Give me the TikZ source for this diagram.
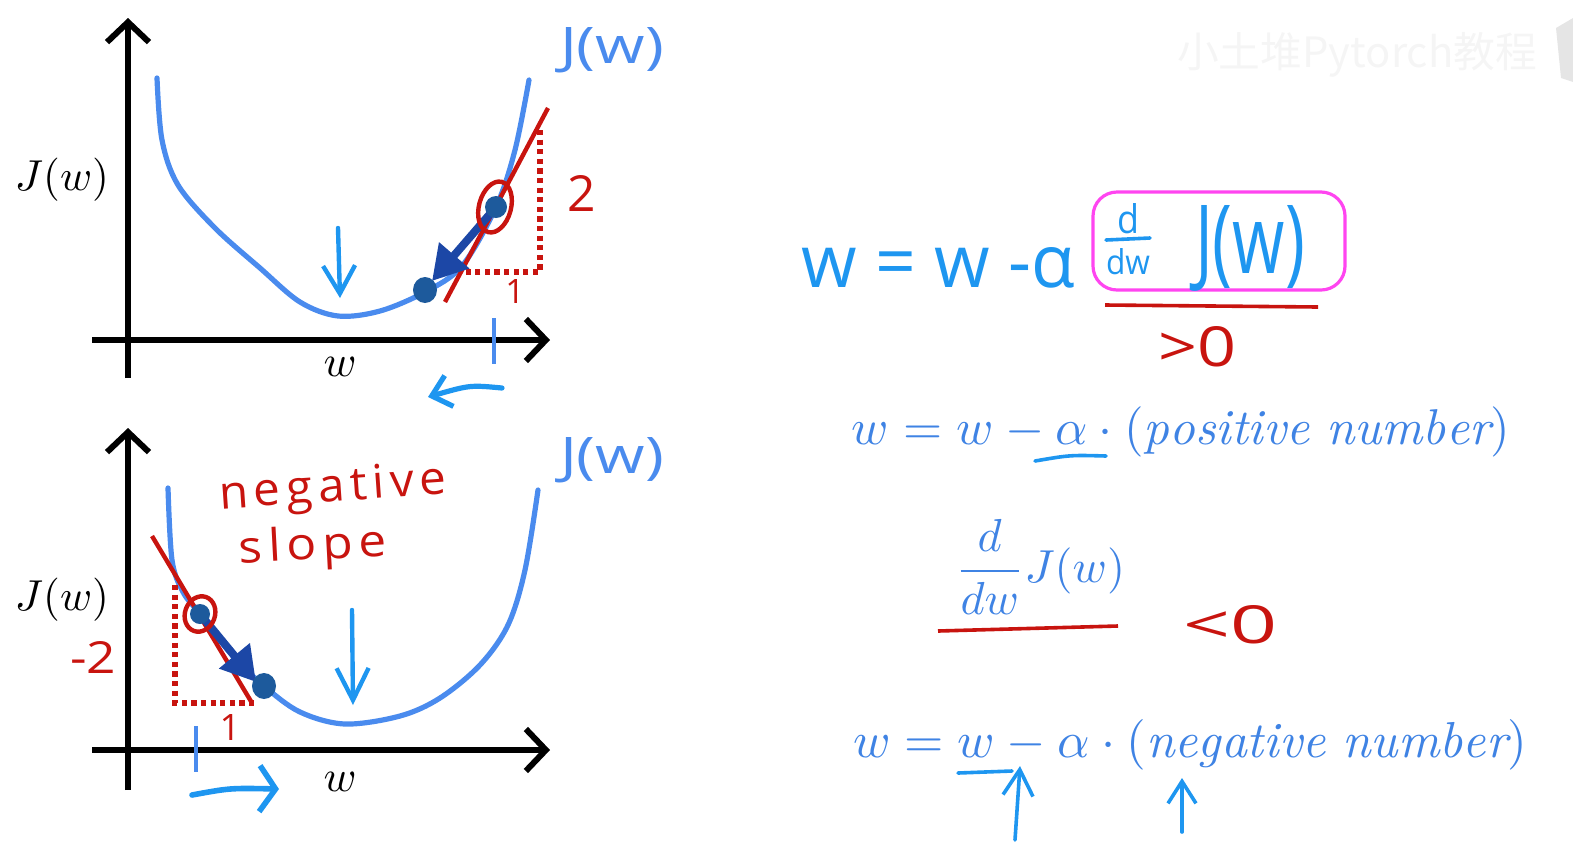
\documentclass[tikz,border=0pt]{standalone}
\usepackage{fontspec}
\usetikzlibrary{arrows.meta}
\newfontfamily\hand{Open Sans}
\newfontfamily\handsp{Open Sans}[LetterSpace=12]
\newfontfamily\cjk{Noto Sans CJK SC}
\definecolor{curveblue}{HTML}{4A8BEE}
\definecolor{mathblue}{HTML}{3F83E4}
\definecolor{handblue}{HTML}{1E96F0}
\definecolor{darkblue}{HTML}{1C47A6}
\definecolor{dotblue}{HTML}{1D5A9C}
\definecolor{penred}{HTML}{C8140F}
\definecolor{boxpink}{HTML}{FF45F0}
\begin{document}
\begin{tikzpicture}[x=0.5pt,y=-0.5pt,
  axis/.style={line width=3pt, line join=round, -{Straight Barb[length=10pt,width=21pt]}},
  jcurve/.style={draw=curveblue, line width=2.6pt, line cap=round},
  tick/.style={draw=curveblue, line width=2.4pt},
  tangent/.style={draw=penred, line width=2.2pt},
  guide/.style={draw=penred, line width=2.6pt, dash pattern=on 2.6pt off 2.2pt},
  hint/.style={draw=handblue, line width=2.2pt, line cap=round, line join=round},
  stepvec/.style={draw=darkblue, line width=4pt, -{Triangle[length=17pt,width=19pt]}},
  ptdot/.style={fill=dotblue},
  ring/.style={draw=penred, line width=2.2pt},
  lbl/.style={inner sep=0pt, outer sep=0pt},
]
\useasboundingbox (0,0) rectangle (1573,852);

% ---------------- top graph ----------------
\coordinate (ya0) at (128,378); \coordinate (ya1) at (128,18);
\coordinate (xa0) at (92,340);  \coordinate (xa1) at (550,340);
\draw[axis] (ya0) -- (ya1);
\draw[axis] (xa0) -- (xa1);
\node[lbl] (jlab1) at (62,180) {\resizebox{47pt}{!}{$J(w)$}};
\node[lbl] (wlab1) at (340,367) {\resizebox{16.5pt}{!}{$w$}};
\draw[jcurve] plot[smooth, tension=0.55] coordinates {(157,78) (162,140) (178,185) (215,228) (260,268) (300,302) (338,316) (380,311) (425,292) (462,266) (496,207) (515,150) (529,80)};
\node[lbl, text=curveblue] (jcur1) at (612,50) {\resizebox{52pt}{18pt}{\hand J(w)}};
\coordinate (t1a) at (445,302); \coordinate (t1b) at (548,108);
\draw[tangent] (t1a) -- (t1b);
\coordinate (g1a) at (540,130); \coordinate (g1c) at (540,272); \coordinate (g1b) at (460,272);
\draw[guide] (g1a) -- (g1c) -- (g1b);
\node[lbl, text=penred] (two) at (582,193) {\resizebox{!}{18pt}{\hand 2}};
\node[lbl, text=penred] (one1) at (515,291) {\resizebox{!}{12pt}{\hand 1}};
\coordinate (p1) at (496,207); \coordinate (p1tip) at (432,281); \coordinate (p2) at (425,290);
\draw[stepvec] (p1) -- (p1tip);
\fill[ptdot] (p1) circle (11);
\fill[ptdot] (p2) ellipse (12 and 13);
\draw[ring, rotate around={-15:(495,207)}] (495,207) ellipse (16 and 26);
\coordinate (tk1a) at (494,318); \coordinate (tk1b) at (494,364);
\draw[tick] (tk1a) -- (tk1b);
\coordinate (dn1a) at (338,228); \coordinate (dn1b) at (340,298);
\draw[hint, -{Straight Barb[length=14pt,width=16pt]}] (dn1a) -- (dn1b);
\coordinate (lf1a) at (502,388); \coordinate (lf1b) at (428,397);
\draw[hint, line width=2.6pt, -{Straight Barb[length=9pt,width=16pt]}] (lf1a) .. controls (470,385) .. (lf1b);

% ---------------- bottom graph ----------------
\coordinate (yb0) at (128,790); \coordinate (yb1) at (128,428);
\coordinate (xb0) at (92,750);  \coordinate (xb1) at (550,750);
\draw[axis] (yb0) -- (yb1);
\draw[axis] (xb0) -- (xb1);
\node[lbl] (jlab2) at (62,600) {\resizebox{47pt}{!}{$J(w)$}};
\node[lbl] (wlab2) at (340,782) {\resizebox{16.5pt}{!}{$w$}};
\draw[jcurve] plot[smooth, tension=0.55] coordinates {(168,488) (172,560) (183,592) (200,614) (232,655) (264,686) (300,712) (345,724) (400,716) (440,698) (480,665) (508,625) (525,570) (538,490)};
\node[lbl, text=curveblue] (jcur2) at (612,460) {\resizebox{52pt}{18pt}{\hand J(w)}};
\node[lbl, text=penred, rotate=4] (neg) at (333,490) {\resizebox{114pt}{17pt}{\handsp negative}};
\node[lbl, text=penred, rotate=3] (slope) at (313,548) {\resizebox{74pt}{17pt}{\handsp slope}};
\coordinate (t2a) at (152,536); \coordinate (t2b) at (252,703);
\draw[tangent] (t2a) -- (t2b);
\coordinate (g2a) at (175,585); \coordinate (g2c) at (175,703); \coordinate (g2b) at (255,703);
\draw[guide] (g2a) -- (g2c) -- (g2b);
\node[lbl, text=penred] (mtwo) at (93,657) {\resizebox{23pt}{16pt}{\hand -2}};
\node[lbl, text=penred] (one2) at (230,727) {\resizebox{!}{13pt}{\hand 1}};
\coordinate (q1) at (200,614); \coordinate (q1tip) at (256,682); \coordinate (q2) at (264,686);
\draw[stepvec] (q1) -- (q1tip);
\fill[ptdot] (q1) circle (10);
\fill[ptdot] (q2) ellipse (12 and 13);
\draw[ring, rotate around={-20:(200,614)}] (200,614) ellipse (15 and 18);
\coordinate (tk2a) at (196,726); \coordinate (tk2b) at (196,772);
\draw[tick] (tk2a) -- (tk2b);
\coordinate (dn2a) at (352,610); \coordinate (dn2b) at (353,705);
\draw[hint, -{Straight Barb[length=16pt,width=16pt]}] (dn2a) -- (dn2b);
\coordinate (rt2a) at (192,795); \coordinate (rt2b) at (279,789);
\draw[hint, line width=2.8pt, -{Straight Barb[length=8pt,width=23pt]}] (rt2a) .. controls (230,788) .. (rt2b);

% ---------------- right side ----------------
\node[lbl, text=handblue] (upd) at (938,268) {\resizebox{137pt}{20pt}{\hand w = w -α}};
\node[draw=boxpink, line width=1.6pt, rounded corners=12pt, minimum width=126pt, minimum height=49pt] (box) at (1219,241) {};
\node[lbl, text=handblue] (dnum) at (1128,219) {\resizebox{11pt}{15pt}{\hand d}};
\coordinate (fb0) at (1106,240); \coordinate (fb1) at (1150,238);
\draw[hint, line width=1.8pt] (fb0) -- (fb1);
\node[lbl, text=handblue] (dden) at (1128,262) {\resizebox{22pt}{13pt}{\hand dw}};
\node[lbl, text=handblue] (jbox) at (1250,248) {\resizebox{55pt}{34pt}{\hand J(w)}};
\coordinate (ul1a) at (1105,305); \coordinate (ul1b) at (1318,307);
\draw[penred, line width=1.8pt] (ul1a) -- (ul1b);
\node[lbl, text=penred] (gt) at (1197,347) {\resizebox{39pt}{20pt}{\hand >0}};

\node[lbl, text=mathblue] (pos) at (1181,432) {\resizebox{329pt}{!}{$w = w - \alpha\cdot(\mathit{positive\ number})$}};
\coordinate (ua0) at (1035,461); \coordinate (ua1) at (1106,456);
\draw[hint, line width=1.8pt] (ua0) .. controls (1070,455) .. (ua1);

\node[lbl, text=mathblue] (der) at (1040,567) {\resizebox{85pt}{!}{$\displaystyle\frac{d}{dw}J(w)$}};
\coordinate (ul2a) at (938,631); \coordinate (ul2b) at (1118,626);
\draw[penred, line width=1.8pt] (ul2a) -- (ul2b);
\node[lbl, text=penred] (lt) at (1230,625) {\resizebox{47pt}{19pt}{\hand <0}};

\node[lbl, text=mathblue] (negl) at (1190,745) {\resizebox{337pt}{!}{$w = w - \alpha\cdot(\mathit{negative\ number})$}};
\coordinate (uw0) at (958,773); \coordinate (uw1) at (1012,771);
\draw[hint, line width=1.8pt] (uw0) -- (uw1);
\coordinate (up1a) at (1015,840); \coordinate (up1b) at (1020,766);
\draw[hint, line width=1.8pt, -{Straight Barb[length=13pt,width=15pt]}] (up1a) -- (up1b);
\coordinate (up2a) at (1182,832); \coordinate (up2b) at (1182,778);
\draw[hint, line width=1.8pt, -{Straight Barb[length=11pt,width=14pt]}] (up2a) -- (up2b);

% ---------------- watermark ----------------
\node[lbl, text=black!4] (wm) at (1357,55) {\resizebox{180pt}{!}{\cjk 小土堆Pytorch教程}};
\fill[black!10] (1556,28) -- (1573,18) -- (1573,82) -- (1561,78) -- cycle;
\end{tikzpicture}
\end{document}
